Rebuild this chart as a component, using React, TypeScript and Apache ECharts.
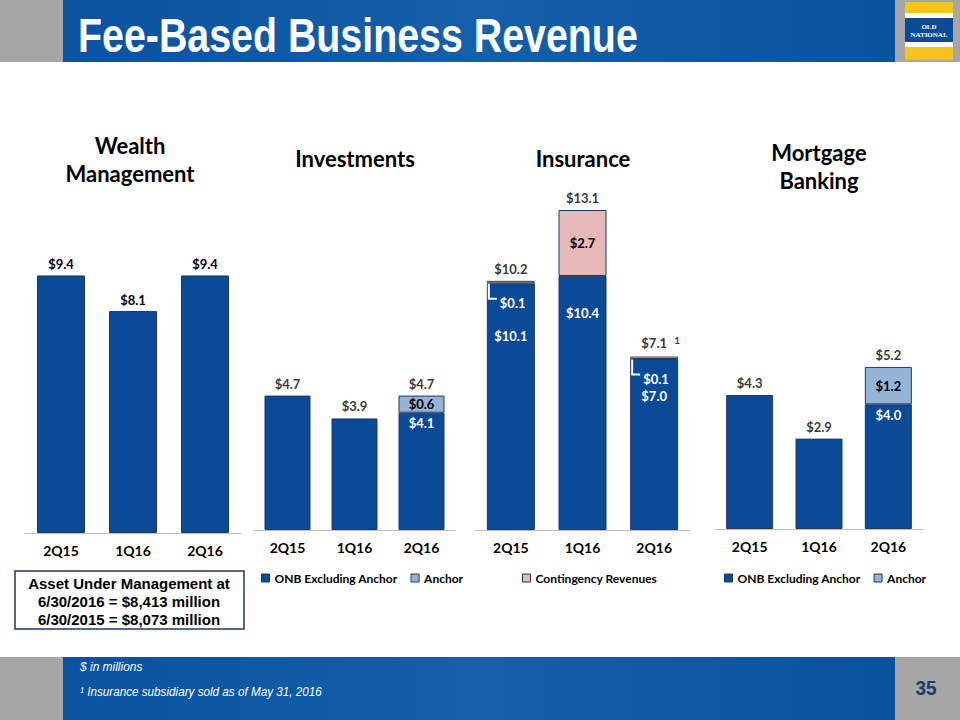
import React, { useEffect, useRef } from "react";
import * as echarts from "echarts";

const quarters = ["2Q15", "1Q16", "2Q16"];
const wealthValues = [9.4, 8.1, 9.4];
const investOnb = [4.7, 3.9, 4.1];
const investAnchor = [null, null, 0.6];
const investTotals = [4.7, 3.9, 4.7];
const insuranceBase = [10.1, 10.4, 7.0];
const insuranceSmall = [0.1, null, 0.1];
const insuranceContingency = [null, 2.7, null];
const insuranceTotals = [10.2, 13.1, 7.1];
const mortgageOnb = [4.3, 2.9, 4.0];
const mortgageAnchor = [null, null, 1.2];
const mortgageTotals = [4.3, 2.9, 5.2];
const panelTitles = ["Wealth\nManagement", "Investments", "Insurance", "Mortgage\nBanking"];
const slideTitle = "Fee-Based Business Revenue";
const footnotes = ["$ in millions", "\u00B9 Insurance subsidiary sold as of May 31, 2016"];
const aumLines = ["Asset Under Management at", "6/30/2016 = $8,413 million", "6/30/2015 = $8,073 million"];
const pageNumber = "35";

const BLUE = "#0A4A97";
const LIGHT = "#95B3D7";
const PINK = "#E6B9B8";
const BORDER = "#1F3864";
const GRAY = "#A6A6A6";
const FONT = 'Lato, "Noto Sans", sans-serif';
const NARROW = '"Liberation Sans Narrow", "Liberation Sans", Arial, sans-serif';
const ARIAL = '"Liberation Sans", Arial, sans-serif';

const money = (v: number) => "$" + Number(v).toFixed(1);
const dash = (v: number | null) => (v == null ? "-" : v);

const baseLabel = {
  fontFamily: FONT,
  fontWeight: "bold" as const,
  fontSize: 13,
};

export default function App() {
  const ref = useRef<HTMLDivElement>(null);

  useEffect(() => {
    const chart = echarts.init(ref.current!, null, { renderer: "svg" });

    const grids = [
      { left: 25, top: 259, width: 216, height: 274 },
      { left: 254, top: 387, width: 201, height: 143 },
      { left: 475, top: 188, width: 215, height: 342 },
      { left: 715, top: 342, width: 208, height: 187 },
    ];
    const yMax = [10, 5, 14, 6];

    const xAxes = grids.map((_, i) => ({
      type: "category",
      gridIndex: i,
      data: quarters,
      axisLine: { lineStyle: { color: "#BFBFBF", width: 1 } },
      axisTick: { show: false },
      axisLabel: { margin: 10, color: "#000", fontSize: 14, fontWeight: "bold", fontFamily: FONT },
    }));
    const yAxes = grids.map((_, i) => ({
      type: "value",
      gridIndex: i,
      min: 0,
      max: yMax[i],
      show: false,
      splitLine: { show: false },
    }));

    const barStyle = (color: string) => ({ color, borderColor: BORDER, borderWidth: 1 });

    const totalScatter = (idx: number, data: any[], name: string) => ({
      type: "scatter",
      name,
      xAxisIndex: idx,
      yAxisIndex: idx,
      data,
      symbolSize: 1,
      itemStyle: { color: "transparent" },
      silent: true,
      z: 6,
      label: {
        show: true,
        position: "top",
        distance: 5,
        color: "#000",
        ...baseLabel,
        formatter: (p: any) => money(p.value),
      },
    });

    const insideTopWhite = { show: true, position: "insideTop", distance: 4, color: "#fff", ...baseLabel, formatter: (p: any) => money(p.value) };
    const insideDark = { show: true, position: "inside", color: "#000", ...baseLabel, formatter: (p: any) => money(p.value) };

    const insOffsets = [42, 27, 26];

    const series: any[] = [
      // Wealth Management
      {
        type: "bar",
        name: "Wealth",
        xAxisIndex: 0,
        yAxisIndex: 0,
        barWidth: 48,
        data: wealthValues,
        itemStyle: barStyle(BLUE),
        label: { show: true, position: "top", distance: 5, color: "#000", ...baseLabel, formatter: (p: any) => money(p.value) },
      },
      // Investments
      {
        type: "bar",
        name: "ONB Excluding Anchor",
        xAxisIndex: 1,
        yAxisIndex: 1,
        stack: "inv",
        barWidth: 46,
        itemStyle: barStyle(BLUE),
        data: investOnb.map((v, i) => (investAnchor[i] != null ? { value: v, label: insideTopWhite } : v)),
      },
      {
        type: "bar",
        name: "Anchor",
        xAxisIndex: 1,
        yAxisIndex: 1,
        stack: "inv",
        barWidth: 46,
        itemStyle: barStyle(LIGHT),
        data: investAnchor.map(dash),
        label: insideDark,
      },
      totalScatter(1, investTotals, "Investments Total"),
      // Insurance
      {
        type: "bar",
        name: "Insurance Base",
        xAxisIndex: 2,
        yAxisIndex: 2,
        stack: "ins",
        barWidth: 48,
        itemStyle: barStyle(BLUE),
        data: insuranceBase.map((v, i) => ({ value: v, label: { ...insideTopWhite, offset: [0, insOffsets[i]] } })),
      },
      {
        type: "bar",
        name: "Insurance Other",
        xAxisIndex: 2,
        yAxisIndex: 2,
        stack: "ins",
        barWidth: 48,
        itemStyle: { color: "#D9D9D9", borderColor: "#404040", borderWidth: 1 },
        data: insuranceSmall.map(dash),
      },
      {
        type: "bar",
        name: "Contingency Revenues",
        xAxisIndex: 2,
        yAxisIndex: 2,
        stack: "ins",
        barWidth: 48,
        itemStyle: barStyle(PINK),
        data: insuranceContingency.map(dash),
        label: insideDark,
      },
      {
        ...totalScatter(2, insuranceTotals, "Insurance Total"),
        label: {
          show: true,
          position: "top",
          distance: 5,
          color: "#000",
          ...baseLabel,
          formatter: (p: any) =>
            p.dataIndex === 2 ? `{h|   1}{a|${money(p.value)}}{s|   1}` : money(p.value),
          rich: {
            a: { ...baseLabel, color: "#000", lineHeight: 16 },
            h: { fontSize: 10, fontFamily: FONT, fontWeight: "bold", color: "transparent", verticalAlign: "top" },
            s: { fontSize: 10, fontFamily: FONT, fontWeight: "bold", color: "#000", verticalAlign: "top" },
          },
        },
      },
      {
        type: "custom",
        name: "Insurance Small Labels",
        xAxisIndex: 2,
        yAxisIndex: 2,
        z: 7,
        silent: true,
        data: insuranceSmall
          .map((s, i) => (s == null ? null : [i, insuranceBase[i], s]))
          .filter((d) => d != null),
        renderItem: (_params: any, api: any) => {
          const cat = api.value(0);
          const small = api.value(2);
          const total = api.value(1) + small;
          const pt = api.coord([cat, total]);
          const left = pt[0] - 24;
          const top = pt[1];
          return {
            type: "group",
            children: [
              {
                type: "polyline",
                shape: { points: [[left + 2, top + 3], [left + 2, top + 18], [left + 10, top + 18]] },
                style: { stroke: "#fff", lineWidth: 2, fill: "none" },
              },
              {
                type: "text",
                style: {
                  text: money(small),
                  x: left + 13,
                  y: top + 22,
                  fill: "#fff",
                  fontSize: 13,
                  fontWeight: "bold",
                  fontFamily: FONT,
                  align: "left",
                  verticalAlign: "middle",
                },
              },
            ],
          };
        },
      },
      // Mortgage Banking
      {
        type: "bar",
        name: "ONB Excluding Anchor",
        xAxisIndex: 3,
        yAxisIndex: 3,
        stack: "mtg",
        barWidth: 47,
        itemStyle: barStyle(BLUE),
        data: mortgageOnb.map((v, i) => (mortgageAnchor[i] != null ? { value: v, label: insideTopWhite } : v)),
      },
      {
        type: "bar",
        name: "Anchor",
        xAxisIndex: 3,
        yAxisIndex: 3,
        stack: "mtg",
        barWidth: 47,
        itemStyle: barStyle(LIGHT),
        data: mortgageAnchor.map(dash),
        label: insideDark,
      },
      totalScatter(3, mortgageTotals, "Mortgage Total"),
    ];

    const legendCommon = {
      icon: "rect",
      itemWidth: 8,
      itemHeight: 8,
      itemGap: 13,
      top: 567,
      selectedMode: false,
      textStyle: { fontFamily: FONT, fontWeight: "bold", fontSize: 12, color: "#000" },
      itemStyle: { borderColor: BORDER, borderWidth: 1 },
    };

    const titleText = (text: string, x: number, y: number) => ({
      type: "text",
      x,
      y,
      style: {
        text,
        align: "center",
        verticalAlign: "middle",
        fontFamily: FONT,
        fontWeight: "bold",
        fontSize: 22,
        lineHeight: 28,
        fill: "#000",
      },
    });

    const bandFill = () =>
      new echarts.graphic.LinearGradient(0, 0, 1, 0, [
        { offset: 0, color: "#0B52A0" },
        { offset: 0.5, color: "#1560A8" },
        { offset: 1, color: "#0B529E" },
      ]);

    const graphic: any[] = [
      // header
      { type: "rect", shape: { x: 0, y: 0, width: 960, height: 62 }, style: { fill: GRAY } },
      { type: "rect", shape: { x: 63, y: 0, width: 832, height: 62 }, style: { fill: bandFill() } },
      {
        type: "text",
        x: 78,
        y: 35,
        scaleX: 0.82,
        style: {
          text: slideTitle,
          fill: "#fff",
          fontFamily: NARROW,
          fontWeight: "bold",
          fontSize: 48,
          verticalAlign: "middle",
          align: "left",
        },
      },
      // logo
      { type: "rect", shape: { x: 905, y: 2, width: 48, height: 58 }, style: { fill: "#F6C21C" } },
      { type: "rect", shape: { x: 905, y: 13, width: 48, height: 34 }, style: { fill: "#fff" } },
      { type: "rect", shape: { x: 905, y: 18, width: 48, height: 24 }, style: { fill: "#0B4A96" } },
      {
        type: "text",
        x: 929,
        y: 31,
        style: {
          text: "OLD\nNATIONAL",
          fill: "#fff",
          fontFamily: '"Liberation Serif", serif',
          fontWeight: "bold",
          fontSize: 7,
          lineHeight: 8,
          align: "center",
          verticalAlign: "middle",
        },
      },
      // panel titles
      titleText(panelTitles[0], 130, 159),
      titleText(panelTitles[1], 355, 158),
      titleText(panelTitles[2], 583, 158),
      titleText(panelTitles[3], 819, 166),
      // AUM box
      {
        type: "rect",
        shape: { x: 15, y: 571, width: 229, height: 58 },
        style: { fill: "#fff", stroke: BORDER, lineWidth: 1.5 },
      },
      {
        type: "text",
        x: 129,
        y: 601,
        style: {
          text: aumLines.join("\n"),
          fill: "#000",
          fontFamily: ARIAL,
          fontWeight: "bold",
          fontSize: 15,
          lineHeight: 18,
          align: "center",
          verticalAlign: "middle",
        },
      },
      // footer
      { type: "rect", shape: { x: 0, y: 657, width: 960, height: 63 }, style: { fill: GRAY } },
      { type: "rect", shape: { x: 63, y: 657, width: 832, height: 63 }, style: { fill: bandFill() } },
      {
        type: "text",
        x: 80,
        y: 667,
        scaleX: 0.92,
        style: { text: footnotes[0], fill: "#fff", fontFamily: NARROW, fontStyle: "italic", fontSize: 13, verticalAlign: "middle" },
      },
      {
        type: "text",
        x: 80,
        y: 692,
        scaleX: 0.9,
        style: { text: footnotes[1], fill: "#fff", fontFamily: NARROW, fontStyle: "italic", fontSize: 13, verticalAlign: "middle" },
      },
      {
        type: "text",
        x: 926,
        y: 688,
        scaleX: 0.9,
        style: { text: pageNumber, fill: BORDER, fontFamily: NARROW, fontWeight: "bold", fontSize: 21, align: "center", verticalAlign: "middle" },
      },
    ];

    chart.setOption({
      animation: false,
      backgroundColor: "#fff",
      grid: grids,
      xAxis: xAxes,
      yAxis: yAxes,
      legend: [
        { ...legendCommon, left: 256, data: ["ONB Excluding Anchor", "Anchor"] },
        { ...legendCommon, left: 517, data: ["Contingency Revenues"] },
        { ...legendCommon, left: 719, data: ["ONB Excluding Anchor", "Anchor"] },
      ],
      series,
      graphic,
    });

    return () => chart.dispose();
  }, []);

  return (
    <div
      ref={ref}
      style={{ position: "fixed", left: 0, top: 0, width: 960, height: 720, background: "#fff" }}
    />
  );
}
